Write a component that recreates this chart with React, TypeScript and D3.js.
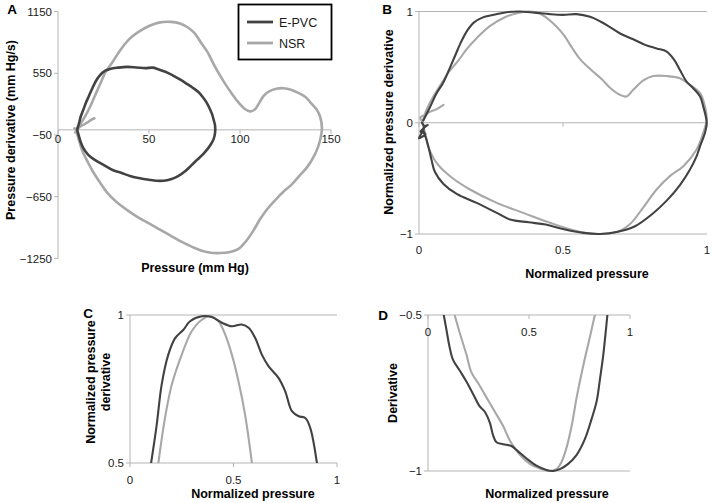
import React from 'react';
import * as d3 from 'd3';

type Pt = [number, number];

const seriesNames = ['E-PVC', 'NSR'];
const seriesColors: Record<string, string> = { 'E-PVC': '#424242', NSR: '#a8a8a8' };

// Panel A ticks
const pressureTicksA = [0, 50, 100, 150];
const derivTicksA = [1150, 550, -50, -650, -1250];
// Normalized ticks
const normTicks = [0, 0.5, 1];
const derivTicksB = [-1, 0, 1];
const derivTicksC = [0.5, 1];
const derivTicksD = [-1, -0.5];

// Panel A: pressure (mm Hg), dP/dt (mm Hg/s)
const epvcA: Pt[] = [
  [10.5, 0], [11.5, 60], [12.5, 130], [14, 200], [15.5, 270], [17, 330], [19, 410], [21, 480], [23, 530],
  [26, 575], [29, 595], [33, 605], [38, 612], [43, 607], [48, 600], [52, 605], [55, 590], [59, 565],
  [63, 530], [67, 490], [71, 445], [74, 410], [77, 370], [79.5, 320], [81.5, 270], [83, 220], [84.5, 160],
  [85.5, 100], [86.3, 40], [86.3, -30], [85.5, -90], [84, -140], [82, -190], [79.5, -240], [76.5, -290],
  [73, -350], [70, -400], [66, -450], [62, -480], [58, -495], [54, -495], [50, -485], [45, -470], [40, -450],
  [35, -420], [30, -390], [25, -340], [20, -290], [16.5, -240], [14, -180], [12.5, -120], [11.5, -60], [10.5, 0],
];
const nsrA: Pt[] = [
  [10, 0], [11.5, 40], [13.5, 90], [15.5, 150], [17.5, 220], [19.5, 300], [22, 400], [24, 480], [26, 560],
  [30, 660], [34, 770], [39, 880], [44, 950], [50, 1010], [56, 1045], [62, 1050], [67, 1035], [71, 1000],
  [75, 940], [78.5, 850], [82, 760], [85.5, 640], [89, 530], [92.5, 430], [96, 340], [99.5, 260], [102.5, 205],
  [105.5, 180], [108, 195], [110.5, 260], [113, 330], [116, 375], [120, 400], [124, 405], [128, 390],
  [132, 360], [136, 320], [139, 260], [142, 200], [144, 130], [145, 20], [144.5, -60], [143, -160],
  [140.5, -260], [137, -360], [133, -440], [128.5, -530], [124, -600], [119.5, -680], [115, -770], [111, -870],
  [107, -990], [103, -1090], [99, -1160], [94, -1190], [89, -1198], [84, -1195], [79, -1175], [74, -1140],
  [68, -1090], [62, -1030], [56, -970], [50, -910], [44, -850], [38, -780], [32, -700], [27, -610], [23, -510],
  [19, -400], [16, -300], [13.5, -210], [12, -130], [10.8, -60], [10, 0], [9, 15], [11, -15], [9.5, -25],
  [12, 30], [14, 50], [16, 70], [18, 95], [20, 113],
];

// Panel B: normalized pressure, normalized derivative
const epvcB: Pt[] = [
  [0.015, 0.02], [0.04, 0.15], [0.06, 0.26], [0.084, 0.36], [0.105, 0.48], [0.125, 0.6], [0.145, 0.72],
  [0.168, 0.83], [0.19, 0.9], [0.22, 0.945], [0.26, 0.97], [0.304, 0.994], [0.35, 1.0], [0.4, 0.99],
  [0.455, 0.976], [0.5, 0.97], [0.547, 0.976], [0.594, 0.952], [0.63, 0.91], [0.663, 0.86], [0.7, 0.8],
  [0.744, 0.75], [0.785, 0.7], [0.825, 0.668], [0.86, 0.64], [0.885, 0.57], [0.906, 0.474], [0.929, 0.37],
  [0.952, 0.31], [0.976, 0.236], [0.987, 0.146], [0.999, 0.0], [0.993, -0.09], [0.976, -0.21],
  [0.964, -0.3], [0.941, -0.42], [0.906, -0.56], [0.86, -0.7], [0.81, -0.82], [0.75, -0.93],
  [0.69, -0.98], [0.63, -1.0], [0.57, -0.99], [0.5, -0.955], [0.44, -0.915], [0.38, -0.895],
  [0.316, -0.87], [0.27, -0.81], [0.2, -0.72], [0.131, -0.64], [0.085, -0.55], [0.055, -0.44],
  [0.044, -0.34], [0.035, -0.24], [0.026, -0.15], [0.015, -0.05], [0.03, -0.02], [0.005, -0.08],
  [0.022, -0.1], [0.0, -0.14], [0.018, -0.04], [0.01, 0.0],
];
const nsrB: Pt[] = [
  [0.012, 0.0], [0.025, 0.11], [0.05, 0.236], [0.075, 0.34], [0.1, 0.445], [0.137, 0.56], [0.165, 0.66],
  [0.2, 0.76], [0.247, 0.87], [0.3, 0.95], [0.34, 0.985], [0.38, 1.0], [0.41, 0.99], [0.44, 0.95],
  [0.478, 0.862], [0.505, 0.78], [0.53, 0.68], [0.56, 0.57], [0.6, 0.47], [0.635, 0.39], [0.665, 0.31],
  [0.698, 0.251], [0.721, 0.236], [0.744, 0.296], [0.779, 0.38], [0.813, 0.42], [0.86, 0.42],
  [0.906, 0.4], [0.941, 0.34], [0.976, 0.266], [0.993, 0.146], [0.999, 0.03], [0.987, -0.09],
  [0.964, -0.24], [0.918, -0.39], [0.871, -0.48], [0.825, -0.6], [0.779, -0.76], [0.733, -0.91],
  [0.69, -0.98], [0.617, -1.0], [0.547, -0.973], [0.455, -0.899], [0.362, -0.81], [0.27, -0.72],
  [0.177, -0.6], [0.108, -0.481], [0.061, -0.361], [0.032, -0.212], [0.021, -0.093], [0.012, 0.0],
  [0.005, 0.05], [0.02, 0.07], [0.04, 0.1], [0.06, 0.12], [0.085, 0.16],
];

// Panel C: upper segment (0.5 .. 1)
const epvcC: Pt[] = [
  [0.102, 0.5], [0.129, 0.629], [0.153, 0.765], [0.185, 0.866], [0.218, 0.922], [0.258, 0.95],
  [0.29, 0.979], [0.347, 0.996], [0.395, 0.993], [0.444, 0.974], [0.492, 0.962], [0.54, 0.968],
  [0.573, 0.957], [0.605, 0.922], [0.637, 0.866], [0.669, 0.827], [0.718, 0.787], [0.75, 0.742],
  [0.782, 0.675], [0.815, 0.658], [0.847, 0.652], [0.871, 0.618], [0.903, 0.5],
];
const nsrC: Pt[] = [
  [0.137, 0.5], [0.169, 0.652], [0.202, 0.765], [0.25, 0.866], [0.298, 0.945], [0.347, 0.984],
  [0.387, 0.996], [0.427, 0.979], [0.46, 0.934], [0.492, 0.866], [0.524, 0.776], [0.556, 0.663], [0.589, 0.5],
];

// Panel D: lower segment (-1 .. -0.5)
const epvcD: Pt[] = [
  [0.078, -0.5], [0.091, -0.546], [0.107, -0.603], [0.124, -0.644], [0.157, -0.678], [0.19, -0.713],
  [0.223, -0.753], [0.256, -0.793], [0.281, -0.81], [0.306, -0.845], [0.322, -0.885], [0.339, -0.908],
  [0.372, -0.914], [0.413, -0.92], [0.446, -0.937], [0.488, -0.96], [0.537, -0.983], [0.587, -0.997],
  [0.62, -1.0], [0.653, -0.994], [0.694, -0.977], [0.736, -0.948], [0.777, -0.897], [0.81, -0.833],
  [0.835, -0.776], [0.851, -0.707], [0.868, -0.626], [0.881, -0.546], [0.888, -0.5],
];
const nsrD: Pt[] = [
  [0.132, -0.5], [0.157, -0.557], [0.19, -0.626], [0.215, -0.684], [0.248, -0.718], [0.289, -0.764],
  [0.331, -0.81], [0.372, -0.856], [0.405, -0.902], [0.455, -0.948], [0.504, -0.977], [0.554, -0.992],
  [0.603, -1.0], [0.636, -0.994], [0.661, -0.971], [0.686, -0.925], [0.711, -0.856], [0.736, -0.764],
  [0.769, -0.661], [0.802, -0.569], [0.826, -0.5],
];

const FONT = '"Liberation Sans", Arial, Helvetica, sans-serif';
const AXIS = '#b4b4b4';
const TXT = '#1a1a1a';

type Scale = d3.ScaleLinear<number, number>;

function Curves({ x, y, series, width, clip }: { x: Scale; y: Scale; series: [string, Pt[]][]; width: number; clip?: string }) {
  const line = d3.line<Pt>().x(d => x(d[0])).y(d => y(d[1])).curve(d3.curveCatmullRom.alpha(0.5));
  return (
    <g clipPath={clip ? `url(#${clip})` : undefined}>
      {series.map(([name, pts]) => (
        <path key={name} d={line(pts) || ''} fill="none" stroke={seriesColors[name]} strokeWidth={width}
          strokeLinejoin="round" strokeLinecap="round" />
      ))}
    </g>
  );
}

function YAxis({ x0, y, ticks, fmt }: { x0: number; y: Scale; ticks: number[]; fmt: (v: number) => string }) {
  const [r0, r1] = y.range();
  return (
    <g>
      <line x1={x0} x2={x0} y1={r0} y2={r1} stroke={AXIS} strokeWidth={1} />
      {ticks.map(t => (
        <g key={t}>
          <line x1={x0 - 4} x2={x0} y1={y(t)} y2={y(t)} stroke={AXIS} />
          <text x={x0 - 6} y={y(t)} dy="0.36em" textAnchor="end" fontSize={11.5} fill={TXT} fontFamily={FONT}>{fmt(t)}</text>
        </g>
      ))}
    </g>
  );
}

function XAxis({ y0, x, ticks, labelY, fmt }: { y0: number; x: Scale; ticks: number[]; labelY: number; fmt: (v: number) => string }) {
  const [r0, r1] = x.range();
  return (
    <g>
      <line x1={r0} x2={r1} y1={y0} y2={y0} stroke={AXIS} strokeWidth={1} />
      {ticks.map(t => (
        <g key={t}>
          <line x1={x(t)} x2={x(t)} y1={y0} y2={y0 + 4} stroke={AXIS} />
          <text x={x(t)} y={labelY} dy="0.36em" textAnchor="middle" fontSize={11.5} fill={TXT} fontFamily={FONT}>{fmt(t)}</text>
        </g>
      ))}
    </g>
  );
}

const minusFmt = (v: number) => (v < 0 ? '\u2212' + String(Math.abs(v)) : String(v));

function Title({ x, y, text, rotate }: { x: number; y: number; text: string; rotate?: boolean }) {
  return (
    <text x={x} y={y} dy="0.36em" textAnchor="middle" fontSize={12.5} fontWeight="bold" fill="#000" fontFamily={FONT}
      transform={rotate ? `rotate(-90 ${x} ${y})` : undefined}>{text}</text>
  );
}

function Letter({ x, y, text }: { x: number; y: number; text: string }) {
  return <text x={x} y={y} dy="0.36em" textAnchor="middle" fontSize={13.5} fontWeight="bold" fill="#000" fontFamily={FONT}>{text}</text>;
}

export default function App() {
  // Panel A
  const xA = d3.scaleLinear().domain([0, 150]).range([58, 331]);
  const yA = d3.scaleLinear().domain([-1250, 1150]).range([258.4, 11.6]);
  // Panel B
  const xB = d3.scaleLinear().domain([0, 1]).range([419, 707]);
  const yB = d3.scaleLinear().domain([-1, 1]).range([234, 11.5]);
  // Panel C
  const xC = d3.scaleLinear().domain([0, 1]).range([130, 337]);
  const yC = d3.scaleLinear().domain([0.5, 1]).range([463, 315]);
  // Panel D
  const xD = d3.scaleLinear().domain([0, 1]).range([428, 630]);
  const yD = d3.scaleLinear().domain([-1, -0.5]).range([471, 315]);

  const sA: [string, Pt[]][] = [['NSR', nsrA], ['E-PVC', epvcA]];
  const sB: [string, Pt[]][] = [['NSR', nsrB], ['E-PVC', epvcB]];
  const sC: [string, Pt[]][] = [['NSR', nsrC], ['E-PVC', epvcC]];
  const sD: [string, Pt[]][] = [['NSR', nsrD], ['E-PVC', epvcD]];

  return (
    <svg width={712} height={503} style={{ position: 'absolute', left: 0, top: 0, background: '#fff' }}>
      <defs>
        <clipPath id="clipC"><rect x={130} y={313} width={210} height={150} /></clipPath>
        <clipPath id="clipD"><rect x={428} y={315} width={205} height={158} /></clipPath>
      </defs>
      <rect x={0} y={0} width={712} height={503} fill="#fff" />

      {/* Panel A */}
      <YAxis x0={xA(0)} y={yA} ticks={derivTicksA} fmt={minusFmt} />
      <XAxis y0={yA(0)} x={xA} ticks={pressureTicksA} labelY={139} fmt={String} />
      <Curves x={xA} y={yA} series={sA} width={2.6} />
      <Letter x={12} y={9} text="A" />
      <Title x={10} y={130} text="Pressure derivative (mm Hg/s)" rotate />
      <Title x={195} y={267} text="Pressure (mm Hg)" />
      <g>
        <rect x={238.5} y={4.5} width={93} height={55} fill="#fff" stroke="#000" strokeWidth={1.8} />
        {seriesNames.map((n, i) => (
          <g key={n}>
            <line x1={247} x2={273} y1={22 + i * 21} y2={22 + i * 21} stroke={seriesColors[n]} strokeWidth={2.8} />
            <text x={279} y={22 + i * 21} dy="0.36em" fontSize={12.5} fill={TXT} fontFamily={FONT}>{n}</text>
          </g>
        ))}
      </g>

      {/* Panel B */}
      {[1, -1].map(v => (
        <line key={v} x1={xB(0)} x2={xB(1)} y1={yB(v)} y2={yB(v)} stroke={AXIS} />
      ))}
      <YAxis x0={xB(0)} y={yB} ticks={derivTicksB} fmt={minusFmt} />
      <XAxis y0={yB(0)} x={xB} ticks={normTicks} labelY={250} fmt={String} />
      <Curves x={xB} y={yB} series={sB} width={2.1} />
      <Letter x={387} y={9} text="B" />
      <Title x={388} y={122} text="Normalized pressure derivative" rotate />
      <Title x={587} y={273} text="Normalized pressure" />

      {/* Panel C */}
      <line x1={xC(0)} x2={xC(1)} y1={yC(1)} y2={yC(1)} stroke={AXIS} />
      <YAxis x0={xC(0)} y={yC} ticks={derivTicksC} fmt={String} />
      <XAxis y0={yC(0.5)} x={xC} ticks={normTicks} labelY={480} fmt={String} />
      <Curves x={xC} y={yC} series={sC} width={2.1} clip="clipC" />
      <Letter x={88} y={313} text="C" />
      <Title x={90} y={382} text="Normalized pressure" rotate />
      <Title x={105} y={382} text="derivative" rotate />
      <Title x={253} y={493} text="Normalized pressure" />

      {/* Panel D */}
      <line x1={xD(0)} x2={xD(1)} y1={yD(-1)} y2={yD(-1)} stroke={AXIS} />
      <YAxis x0={xD(0)} y={yD} ticks={derivTicksD} fmt={minusFmt} />
      <XAxis y0={yD(-0.5)} x={xD} ticks={normTicks} labelY={332} fmt={String} />
      <Curves x={xD} y={yD} series={sD} width={2.1} clip="clipD" />
      <Letter x={383} y={315} text="D" />
      <Title x={392} y={393} text="Derivative" rotate />
      <Title x={547} y={493} text="Normalized pressure" />
    </svg>
  );
}
